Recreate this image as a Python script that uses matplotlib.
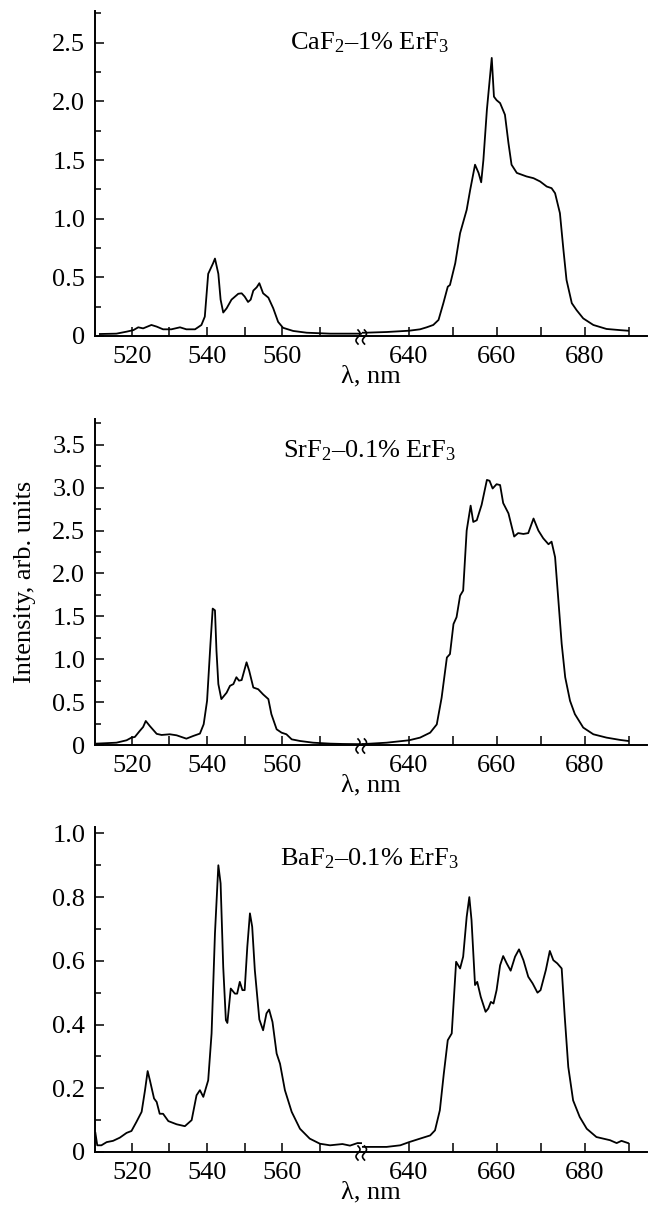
import numpy as np
import matplotlib
matplotlib.use("Agg")
import matplotlib.pyplot as plt
from matplotlib.lines import Line2D

plt.rcParams['font.family'] = ['Liberation Serif', 'DejaVu Serif']
plt.rcParams['mathtext.fontset'] = 'custom'
plt.rcParams['mathtext.rm'] = 'Liberation Serif'
plt.rcParams['mathtext.it'] = 'Liberation Serif:italic'
plt.rcParams['font.size'] = 19

# ---- data ----
ca_wl = [511.5, 515.9, 518.6, 520.4, 521.7, 523.0, 525.2, 526.6, 528.3, 530.5, 532.8, 534.5,
         536.8, 538.5, 539.4, 540.3, 541.6, 542.1, 543.0, 543.6, 544.3, 545.2, 546.5, 548.3,
         549.2, 550.0, 550.9, 551.6, 552.3, 553.2, 553.9, 554.9, 556.3, 557.6, 558.9, 560.2,
         562.9, 566.5, 572.7, 576.0, 580.0,
         630.0, 634.9, 640.0, 642.5, 644.0, 645.5, 646.7, 647.8, 648.8, 649.3, 650.5, 651.6,
         653.1, 653.9, 655.0, 655.8, 656.4, 656.9, 657.7, 658.8, 659.3, 659.9, 660.7, 661.8,
         662.6, 663.3, 664.5, 666.7, 668.3, 669.8, 671.3, 672.4, 673.2, 674.3, 675.1, 675.8,
         677.0, 678.1, 679.6, 681.9, 684.9, 688.0, 689.8]
ca_int = [0.017, 0.02, 0.037, 0.05, 0.074, 0.065, 0.094, 0.08, 0.057, 0.057, 0.074, 0.057,
          0.057, 0.094, 0.165, 0.53, 0.62, 0.66, 0.53, 0.31, 0.20, 0.236, 0.31, 0.36,
          0.364, 0.336, 0.29, 0.31, 0.387, 0.415, 0.45, 0.364, 0.327, 0.236, 0.12, 0.07,
          0.043, 0.028, 0.02, 0.02, 0.02,
          0.028, 0.034, 0.045, 0.057, 0.074, 0.094, 0.137, 0.28, 0.42, 0.435, 0.62, 0.876,
          1.075, 1.246, 1.46, 1.39, 1.31, 1.50, 1.93, 2.37, 2.04, 2.01, 1.985, 1.886,
          1.644, 1.46, 1.39, 1.36, 1.345, 1.317, 1.274, 1.26, 1.217, 1.047, 0.734, 0.478,
          0.28, 0.22, 0.15, 0.094, 0.06, 0.05, 0.045]

sr_wl = [510.6, 515.9, 518.6, 519.9, 520.8, 522.1, 523.0, 523.7, 524.8, 526.6, 527.9, 530.1,
         531.9, 534.5, 536.3, 538.1, 539.1, 540.0, 540.9, 541.5, 542.1, 542.5, 543.0, 543.8,
         545.2, 546.1, 547.0, 547.8, 548.5, 549.2, 550.5, 551.2, 552.3, 553.6, 554.9, 556.3,
         557.1, 558.5, 559.8, 561.1, 562.5, 564.7, 568.2, 572.7, 576.0, 580.0,
         630.0, 634.9, 640.0, 642.5, 644.8, 646.3, 647.4, 648.6, 649.3, 650.1, 650.8, 651.6,
         652.3, 653.1, 654.0, 654.6, 655.4, 656.5, 657.7, 658.3, 659.0, 659.9, 660.7, 661.4,
         662.6, 663.9, 664.8, 666.0, 667.1, 668.3, 669.4, 670.5, 671.7, 672.4, 673.2, 673.9,
         674.7, 675.5, 676.6, 677.7, 679.6, 681.9, 684.9, 688.0, 689.8]
sr_int = [0.016, 0.027, 0.055, 0.086, 0.094, 0.164, 0.21, 0.28, 0.22, 0.13, 0.117, 0.125,
          0.113, 0.074, 0.105, 0.133, 0.242, 0.515, 1.18, 1.59, 1.57, 1.10, 0.71, 0.535,
          0.61, 0.69, 0.71, 0.79, 0.75, 0.757, 0.964, 0.866, 0.67, 0.65, 0.59, 0.535,
          0.36, 0.183, 0.144, 0.125, 0.066, 0.047, 0.027, 0.016, 0.012, 0.01,
          0.012, 0.027, 0.055, 0.086, 0.144, 0.24, 0.55, 1.02, 1.06, 1.41, 1.49, 1.74,
          1.80, 2.50, 2.79, 2.60, 2.62, 2.80, 3.09, 3.08, 2.99, 3.04, 3.03, 2.82,
          2.70, 2.43, 2.47, 2.46, 2.47, 2.64, 2.50, 2.41, 2.34, 2.37, 2.19, 1.72,
          1.18, 0.79, 0.515, 0.36, 0.203, 0.125, 0.086, 0.059, 0.047]

ba_wl = [510.3, 510.8, 511.9, 513.3, 515.0, 516.8, 518.6, 519.9, 521.2, 522.6, 523.5, 524.2,
         524.8, 525.9, 526.6, 527.4, 528.3, 529.7, 531.9, 534.1, 535.9, 537.2, 538.1, 539.0,
         540.3, 541.2, 542.1, 543.0, 543.6, 544.3, 545.0, 545.4, 546.3, 547.4, 548.0, 548.7,
         549.4, 550.0, 550.7, 551.4, 552.0, 552.7, 553.9, 554.9, 555.8, 556.5, 557.4, 558.5,
         559.4, 560.7, 562.5, 564.7, 567.3, 570.0, 572.7, 576.0, 578.0, 580.0,
         630.0, 634.9, 638.0, 640.0, 642.5, 644.8, 645.9, 647.0, 647.9, 648.8, 649.7, 650.7,
         651.6, 652.3, 653.1, 653.7, 654.2, 655.0, 655.5, 656.3, 657.4, 658.0, 658.6, 659.2,
         659.9, 660.7, 661.4, 662.2, 663.1, 664.1, 665.0, 666.0, 667.1, 668.1, 669.2, 669.9,
         671.1, 672.0, 672.8, 673.7, 674.7, 675.4, 676.2, 677.3, 678.8, 680.4, 682.6, 685.7,
         687.2, 688.3, 689.8]
ba_int = [0.06, 0.021, 0.021, 0.031, 0.035, 0.045, 0.06, 0.066, 0.094, 0.126, 0.194, 0.254,
          0.225, 0.168, 0.157, 0.12, 0.12, 0.097, 0.087, 0.081, 0.10, 0.178, 0.194, 0.173,
          0.225, 0.372, 0.686, 0.90, 0.843, 0.58, 0.414, 0.405, 0.513, 0.497, 0.497, 0.534,
          0.508, 0.508, 0.644, 0.749, 0.707, 0.571, 0.416, 0.382, 0.435, 0.447, 0.408, 0.309,
          0.277, 0.194, 0.126, 0.073, 0.042, 0.026, 0.021, 0.025, 0.02, 0.028,
          0.016, 0.016, 0.021, 0.031, 0.042, 0.052, 0.068, 0.131, 0.246, 0.351, 0.372, 0.597,
          0.576, 0.613, 0.738, 0.80, 0.728, 0.524, 0.534, 0.487, 0.44, 0.45, 0.471, 0.466,
          0.508, 0.586, 0.615, 0.592, 0.569, 0.613, 0.636, 0.602, 0.55, 0.529, 0.50, 0.508,
          0.571, 0.631, 0.602, 0.592, 0.576, 0.424, 0.267, 0.162, 0.11, 0.073, 0.047, 0.037,
          0.028, 0.035, 0.028]

labels = [r'CaF$_2$–1% ErF$_3$', r'SrF$_2$–0.1% ErF$_3$', r'BaF$_2$–0.1% ErF$_3$']
ylims = [2.77, 3.80, 1.02]
ymajor = [0.5, 0.5, 0.2]
series = [(ca_wl, ca_int), (sr_wl, sr_int), (ba_wl, ba_int)]

left_xlim = (510.2, 581.2)
right_xlim = (629.3, 694.1)


def fmt(v):
    return '0' if v == 0 else f'{v:.1f}'


W, H = 650, 1219
fig = plt.figure(figsize=(6.5, 12.19), dpi=100)

# axes boxes in pixels: (top, bottom)
rows = [(11, 336), (419, 745), (827, 1152)]
x0, xb, x1 = 95, 362, 647

for i, ((top, bot), (wl, inten)) in enumerate(zip(rows, series)):
    b = 1 - bot / H
    h = (bot - top) / H
    axl = fig.add_axes([x0 / W, b, (xb - x0) / W, h])
    axr = fig.add_axes([xb / W, b, (x1 - xb) / W, h])
    for ax in (axl, axr):
        ax.plot(wl, inten, color='black', lw=1.3)
        ax.set_ylim(0, ylims[i])
        ax.spines['top'].set_visible(False)
        ax.spines['right'].set_visible(False)
        ax.spines['bottom'].set_linewidth(1.4)
        ax.spines['left'].set_linewidth(1.4)
        ax.tick_params(direction='in', width=1.1, length=6.5, labelsize=19, pad=7)
        ax.tick_params(which='minor', direction='in', width=1.1, length=4.5)
    axl.set_xlim(*left_xlim)
    axr.set_xlim(*right_xlim)
    axr.spines['left'].set_visible(False)
    axr.tick_params(axis='y', which='both', left=False, labelleft=False)

    axl.set_xticks([520, 540, 560])
    axl.set_xticks([530, 550, 570], minor=True)
    axr.set_xticks([640, 660, 680])
    axr.set_xticks([650, 670, 690], minor=True)
    for ax in (axl, axr):
        ax.tick_params(axis='x', which='minor', length=6.5)

    step = ymajor[i]
    majors = np.arange(0, ylims[i] + 1e-6, step)
    axl.set_yticks(majors)
    axl.set_yticklabels([fmt(v) for v in majors])
    axl.set_yticks(np.arange(step / 2, ylims[i], step), minor=True)

    # label of the sample
    fig.text(370 / W, 1 - (top + 32) / H, labels[i], ha='center', va='center', fontsize=19)
    # x axis label
    fig.text(371 / W, 1 - (bot + 40) / H, 'λ, nm', ha='center', va='center', fontsize=19)

    # break marks on the axis (two small S-shaped strokes)
    t = np.linspace(-1, 1, 40)
    for cx in (xb - 4, xb + 2.5):
        xs = (cx - 2.0 * np.sin(np.pi * t)) / W
        ys = 1 - (bot + 1 + 7 * t) / H
        fig.add_artist(Line2D(xs, ys, color='black', lw=1.2, transform=fig.transFigure))

fig.text(25 / W, 1 - 582 / H, 'Intensity, arb. units', rotation=90,
         ha='center', va='center', fontsize=19)

fig.savefig('out.png', dpi=100)
